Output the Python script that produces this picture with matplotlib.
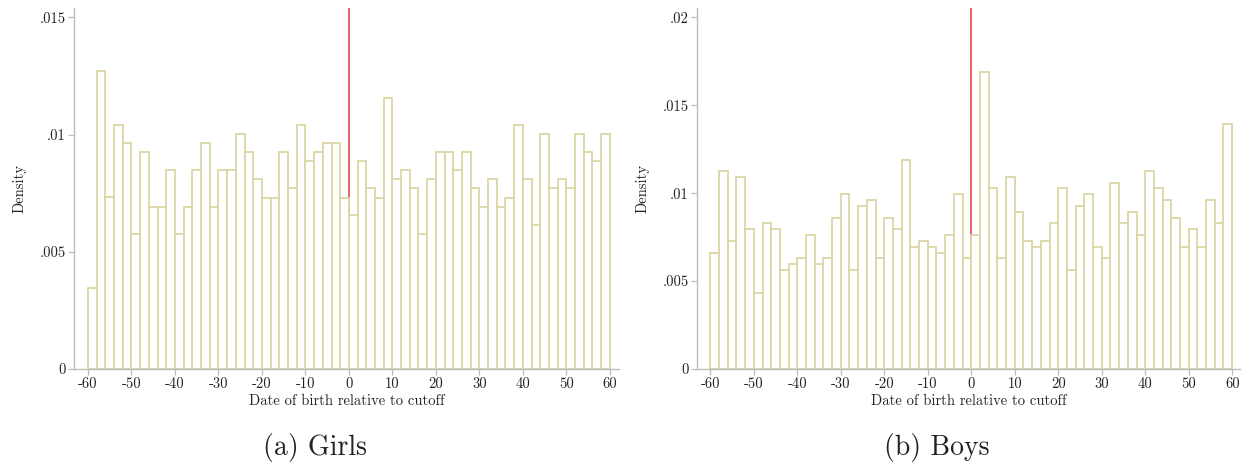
import numpy as np
import matplotlib
matplotlib.use("Agg")
import matplotlib.pyplot as plt

# -----------------------------------------
# DATA (densities, bins of 2 days from -60 to 60)
# -----------------------------------------
bin_edges = np.arange(-60, 61, 2)

girls_density = [
    0.00345, 0.01273, 0.00733, 0.01041, 0.00963, 0.00578, 0.00925, 0.00693,
    0.00693, 0.00848, 0.00578, 0.00693, 0.00848, 0.00963, 0.00693, 0.00848,
    0.00848, 0.01003, 0.00925, 0.00810, 0.00731, 0.00731, 0.00925, 0.00771,
    0.01041, 0.00886, 0.00925, 0.00963, 0.00963, 0.00731,
    0.00655, 0.00886, 0.00771, 0.00731, 0.01158, 0.00810, 0.00848, 0.00771,
    0.00578, 0.00810, 0.00925, 0.00925, 0.00848, 0.00925, 0.00771, 0.00693,
    0.00810, 0.00693, 0.00731, 0.01041, 0.00810, 0.00616, 0.01003, 0.00771,
    0.00810, 0.00771, 0.01003, 0.00925, 0.00886, 0.01003,
]

boys_density = [
    0.00659, 0.01125, 0.00727, 0.01091, 0.00794, 0.00430, 0.00828, 0.00794,
    0.00561, 0.00595, 0.00629, 0.00761, 0.00595, 0.00629, 0.00860, 0.00994,
    0.00561, 0.00926, 0.00960, 0.00629, 0.00860, 0.00794, 0.01191, 0.00693,
    0.00727, 0.00693, 0.00659, 0.00761, 0.00994, 0.00629,
    0.00761, 0.01691, 0.01027, 0.00629, 0.01093, 0.00894, 0.00727, 0.00693,
    0.00727, 0.00828, 0.01027, 0.00561, 0.00926, 0.00994, 0.00693, 0.00629,
    0.01059, 0.00828, 0.00894, 0.00761, 0.01125, 0.01027, 0.00960, 0.00860,
    0.00693, 0.00794, 0.00693, 0.00960, 0.00828, 0.01392,
]

x_ticks = [-60, -50, -40, -30, -20, -10, 0, 10, 20, 30, 40, 50, 60]
x_ticklabels = ["-60", "-50", "-40", "-30", "-20", "-10", "0",
                "10", "20", "30", "40", "50", "60"]

girls_yticks = [0, 0.005, 0.01, 0.015]
girls_yticklabels = ["0", ".005", ".01", ".015"]
boys_yticks = [0, 0.005, 0.01, 0.015, 0.02]
boys_yticklabels = ["0", ".005", ".01", ".015", ".02"]

cutoff = 0

# -----------------------------------------
# STYLE
# -----------------------------------------
plt.rcParams['font.family'] = ['cmr10', 'DejaVu Serif']
plt.rcParams['axes.unicode_minus'] = False
plt.rcParams['mathtext.fontset'] = 'cm'

bar_edge = '#dcd6a6'
spine_col = '#bdbdbd'
red = '#e23a3a'
text_col = '#222222'

fig = plt.figure(figsize=(12.46, 4.63), dpi=100)

ax_g = fig.add_axes([0.0594, 0.2030, 0.4374, 0.7797])
ax_b = fig.add_axes([0.5594, 0.2030, 0.4358, 0.7797])


def draw_hist(ax, dens, yticks, yticklabels, xlim, ylim):
    ax.axvline(cutoff, color=red, lw=1.1, zorder=1)
    ax.bar(bin_edges[:-1], dens, width=2, align='edge', facecolor='white',
           edgecolor=bar_edge, linewidth=1.3, zorder=2)
    ax.set_xlim(*xlim)
    ax.set_ylim(*ylim)
    ax.set_xticks(x_ticks)
    ax.set_xticklabels(x_ticklabels)
    ax.set_yticks(yticks)
    ax.set_yticklabels(yticklabels)
    for s in ['top', 'right']:
        ax.spines[s].set_visible(False)
    for s in ['left', 'bottom']:
        ax.spines[s].set_color(spine_col)
        ax.spines[s].set_linewidth(1.0)
    ax.tick_params(direction='out', length=4, width=0.9, color=spine_col,
                   labelsize=10.5, labelcolor=text_col, pad=2)
    ax.set_xlabel("Date of birth relative to cutoff", fontsize=10.5,
                  color=text_col, labelpad=2)
    ax.set_ylabel("Density", fontsize=10.5, color=text_col, labelpad=9)


draw_hist(ax_g, girls_density, girls_yticks, girls_yticklabels,
          (-63.2, 62.1), (0, 0.0154))
draw_hist(ax_b, boys_density, boys_yticks, boys_yticklabels,
          (-63.06, 61.8), (0, 0.02053))

fig.text(315 / 1246, 1 - 447 / 463, "(a) Girls", ha='center', va='center',
         fontsize=20, color=text_col)
fig.text(937 / 1246, 1 - 447 / 463, "(b) Boys", ha='center', va='center',
         fontsize=20, color=text_col)

fig.savefig("out.png", dpi=100)
